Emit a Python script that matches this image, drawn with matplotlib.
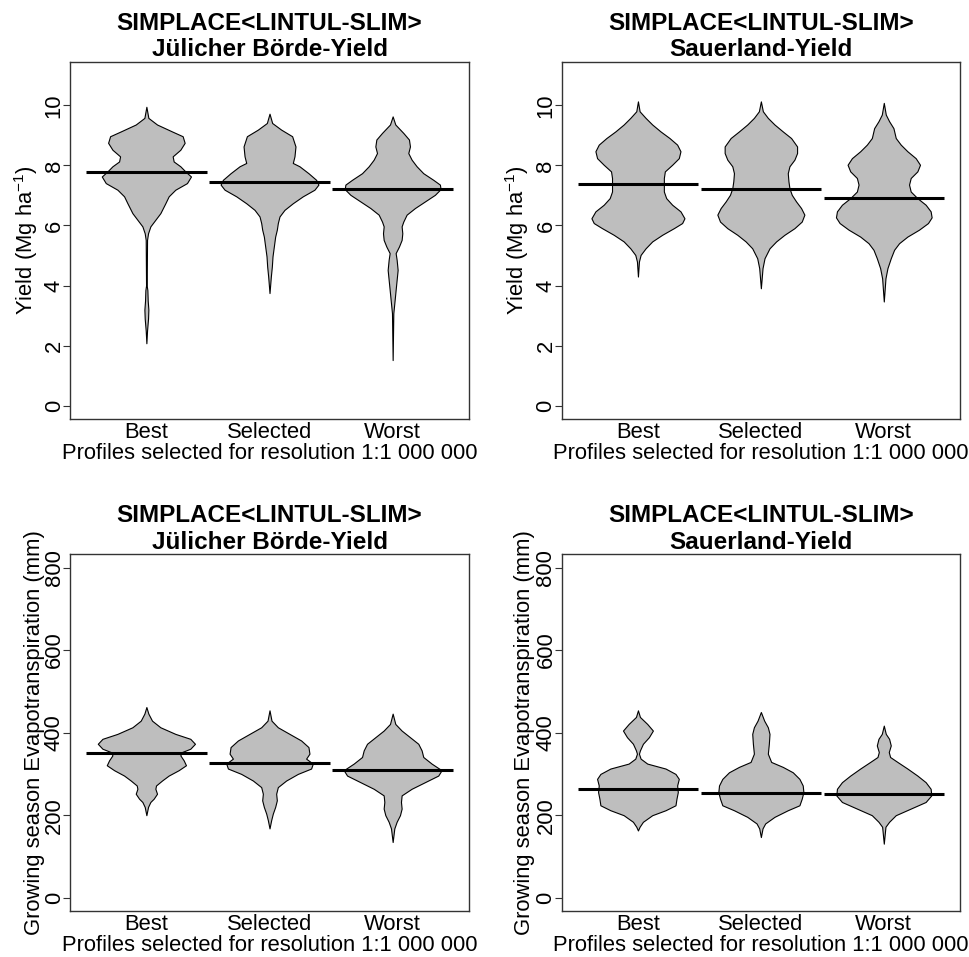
import matplotlib.pyplot as plt

plt.rcParams['font.family'] = ['Liberation Sans', 'DejaVu Sans']
plt.rcParams['mathtext.fontset'] = 'custom'
plt.rcParams['mathtext.rm'] = 'Liberation Sans'
plt.rcParams['mathtext.it'] = 'Liberation Sans:italic'

groups = ["Best", "Selected", "Worst"]
xlabel = "Profiles selected for resolution 1:1 000 000"

# bean outlines: value levels and relative density (bean half width)
# Juelicher Boerde - yield
jb_yield_best_y = [9.95, 9.58, 9.36, 9.13, 8.97, 8.75, 8.52, 8.30, 8.13, 7.97, 7.80, 7.63, 7.41, 7.19,
                   6.97, 6.74, 6.41, 6.19, 5.97, 5.74, 5.52, 4.00, 3.85, 3.50, 3.20, 2.90, 2.50, 2.08]
jb_yield_best_d = [0, 6, 32, 77, 109, 115, 102, 79, 82, 102, 117, 134, 122, 87,
                   67, 57, 42, 27, 12, 5, 2, 1, 3, 4, 6, 5, 2, 0]
jb_yield_sel_y = [9.72, 9.41, 9.19, 8.97, 8.63, 8.30, 8.08, 7.97, 7.74, 7.52, 7.36, 7.19, 6.97, 6.74,
                  6.52, 6.30, 6.08, 5.86, 5.63, 5.30, 4.97, 4.63, 4.30, 3.75]
jb_yield_sel_d = [0, 8, 35, 68, 78, 75, 70, 90, 117, 140, 147, 135, 100, 70,
                  45, 30, 25, 22, 17, 13, 9, 7, 4, 0]
jb_yield_wst_y = [9.63, 9.36, 9.08, 8.86, 8.63, 8.41, 8.19, 7.97, 7.74, 7.52, 7.36, 7.21, 7.02, 6.80,
                  6.58, 6.36, 6.13, 5.97, 5.74, 5.52, 5.30, 5.08, 4.86, 4.52, 4.19, 3.86, 3.52, 3.08, 1.52]
jb_yield_wst_d = [0, 8, 32, 49, 52, 47, 57, 72, 92, 122, 142, 144, 127, 97,
                  67, 42, 32, 27, 29, 27, 19, 9, 12, 15, 12, 9, 6, 2, 0]
jb_yield_mean = [7.78, 7.45, 7.23]

# Sauerland - yield
sl_yield_best_y = [10.13, 9.80, 9.58, 9.36, 9.13, 8.91, 8.69, 8.47, 8.24, 8.02, 7.80, 7.58, 7.36,
                   7.13, 6.91, 6.69, 6.47, 6.24, 6.08, 5.91, 5.69, 5.47, 5.24, 5.02, 4.80, 4.30]
sl_yield_best_d = [0, 5, 23, 43, 68, 95, 118, 128, 123, 103, 81, 78, 78,
                   78, 85, 103, 128, 140, 133, 108, 73, 43, 23, 8, 3, 0]
sl_yield_sel_y = [10.13, 9.80, 9.58, 9.36, 9.13, 8.91, 8.63, 8.41, 8.19, 7.97, 7.74, 7.47, 7.24,
                  7.02, 6.80, 6.58, 6.36, 6.13, 5.91, 5.69, 5.47, 5.24, 4.91, 4.58, 3.91]
sl_yield_sel_d = [0, 6, 21, 41, 66, 91, 109, 109, 101, 86, 81, 83, 86,
                  93, 106, 121, 131, 123, 101, 71, 46, 26, 11, 5, 0]
sl_yield_wst_y = [10.08, 9.69, 9.47, 9.24, 8.91, 8.69, 8.47, 8.24, 8.02, 7.80, 7.58, 7.36, 7.13,
                  6.91, 6.69, 6.47, 6.27, 6.08, 5.86, 5.63, 5.41, 5.19, 4.91, 4.58, 4.24, 3.47]
sl_yield_wst_d = [0, 6, 16, 29, 36, 51, 71, 96, 109, 101, 81, 76, 81,
                  101, 126, 141, 144, 133, 106, 71, 46, 31, 21, 11, 5, 0]
sl_yield_mean = [7.39, 7.22, 6.90]

# Juelicher Boerde - growing season evapotranspiration
jb_et_best_y = [462, 446, 429, 413, 397, 385, 373, 361, 353, 345, 333, 321, 309, 296, 284, 272,
                264, 252, 240, 232, 220, 200]
jb_et_best_d = [0, 6, 17, 42, 87, 132, 146, 132, 107, 102, 112, 119, 97, 67, 47, 29,
                27, 32, 22, 12, 5, 0]
jb_et_sel_y = [454, 429, 413, 397, 381, 365, 349, 337, 325, 313, 300, 284, 268, 252, 236, 220,
               204, 188, 168]
jb_et_sel_d = [0, 6, 25, 60, 95, 117, 120, 110, 130, 125, 85, 50, 25, 20, 22, 17,
               10, 5, 0]
jb_et_wst_y = [446, 421, 405, 389, 373, 357, 341, 325, 309, 296, 280, 264, 248, 232, 216, 200,
               184, 168, 135]
jb_et_wst_d = [0, 8, 27, 52, 77, 87, 92, 117, 147, 137, 97, 57, 27, 25, 27, 22,
               12, 5, 0]
jb_et_mean = [351, 326, 310]

# Sauerland - growing season evapotranspiration
sl_et_best_y = [454, 438, 421, 405, 389, 373, 357, 349, 337, 325, 313, 300, 288, 272, 256, 240,
                224, 212, 200, 184, 172, 163]
sl_et_best_d = [0, 6, 28, 45, 33, 15, 6, 3, 8, 28, 83, 113, 123, 118, 120, 116,
                113, 83, 43, 15, 5, 0]
sl_et_sel_y = [450, 429, 413, 397, 373, 349, 329, 317, 304, 288, 272, 256, 240, 224, 212, 196,
               180, 168, 147]
sl_et_sel_d = [0, 10, 21, 26, 24, 21, 31, 66, 96, 116, 126, 128, 123, 116, 81, 41,
               13, 5, 0]
sl_et_wst_y = [417, 397, 385, 369, 353, 341, 329, 313, 296, 280, 264, 248, 232, 216, 200, 184,
               172, 131]
sl_et_wst_d = [0, 6, 16, 21, 15, 19, 41, 71, 101, 126, 141, 143, 126, 81, 36, 16,
               5, 0]
sl_et_mean = [263, 254, 251]

yield_ticks = [0, 2, 4, 6, 8, 10]
et_ticks = [0, 200, 400, 600, 800]

DENS_SCALE = 1 / 370.0   # relative density -> half width on the category axis
FS = 15.8


def bean_panel(ax, ys, ds, means, ytop, ticks, ylabel, title, ylab_x):
    for i, (y, d) in enumerate(zip(ys, ds)):
        pos = i + 1
        w = [v * DENS_SCALE for v in d]
        ax.fill_betweenx(y, [pos - v for v in w], [pos + v for v in w],
                         facecolor='#bebebe', edgecolor='black', linewidth=0.8)
        ax.hlines(means[i], pos - 0.49, pos + 0.49, color='black', linewidth=2.2)

    ax.set_xlim(0.38, 3.62)
    ax.set_ylim(-0.04 * ytop, 1.04 * ytop)
    ax.set_xticks([1, 2, 3])
    ax.set_xticklabels(groups, fontsize=FS)
    ax.tick_params(axis='x', length=0, pad=2)
    ax.set_yticks(ticks)
    ax.set_yticklabels([str(t) for t in ticks], fontsize=FS, rotation=90, va='center')
    ax.tick_params(axis='y', direction='out', length=4.8, width=0.8, color='#333333', pad=-1)
    for sp in ax.spines.values():
        sp.set_color('#333333')
        sp.set_linewidth(1.0)
    ax.set_xlabel(xlabel, fontsize=FS, labelpad=0)
    ax.set_ylabel(ylabel, fontsize=FS)
    ax.yaxis.set_label_coords(ylab_x, 0.5)
    ax.set_title(title, fontsize=17.5, fontweight='bold', pad=4)


fig = plt.figure(figsize=(9.7, 9.57), dpi=100)

ax1 = fig.add_axes([0.0722, 0.5622, 0.4113, 0.3730])
ax2 = fig.add_axes([0.5791, 0.5622, 0.4106, 0.3730])
ax3 = fig.add_axes([0.0722, 0.0481, 0.4113, 0.3727])
ax4 = fig.add_axes([0.5791, 0.0481, 0.4106, 0.3727])

t_jb = "SIMPLACE<LINTUL-SLIM>\nJülicher Börde-Yield"
t_sl = "SIMPLACE<LINTUL-SLIM>\nSauerland-Yield"
lab_yield = "Yield (Mg ha$^{-1}$)"
lab_et = "Growing season Evapotranspiration (mm)"

bean_panel(ax1, [jb_yield_best_y, jb_yield_sel_y, jb_yield_wst_y],
           [jb_yield_best_d, jb_yield_sel_d, jb_yield_wst_d],
           jb_yield_mean, 11, yield_ticks, lab_yield, t_jb, -0.075)
bean_panel(ax2, [sl_yield_best_y, sl_yield_sel_y, sl_yield_wst_y],
           [sl_yield_best_d, sl_yield_sel_d, sl_yield_wst_d],
           sl_yield_mean, 11, yield_ticks, lab_yield, t_sl, -0.078)
bean_panel(ax3, [jb_et_best_y, jb_et_sel_y, jb_et_wst_y],
           [jb_et_best_d, jb_et_sel_d, jb_et_wst_d],
           jb_et_mean, 800, et_ticks, lab_et, t_jb, -0.062)
bean_panel(ax4, [sl_et_best_y, sl_et_sel_y, sl_et_wst_y],
           [sl_et_best_d, sl_et_sel_d, sl_et_wst_d],
           sl_et_mean, 800, et_ticks, lab_et, t_sl, -0.068)

plt.savefig("out.png", dpi=100)
